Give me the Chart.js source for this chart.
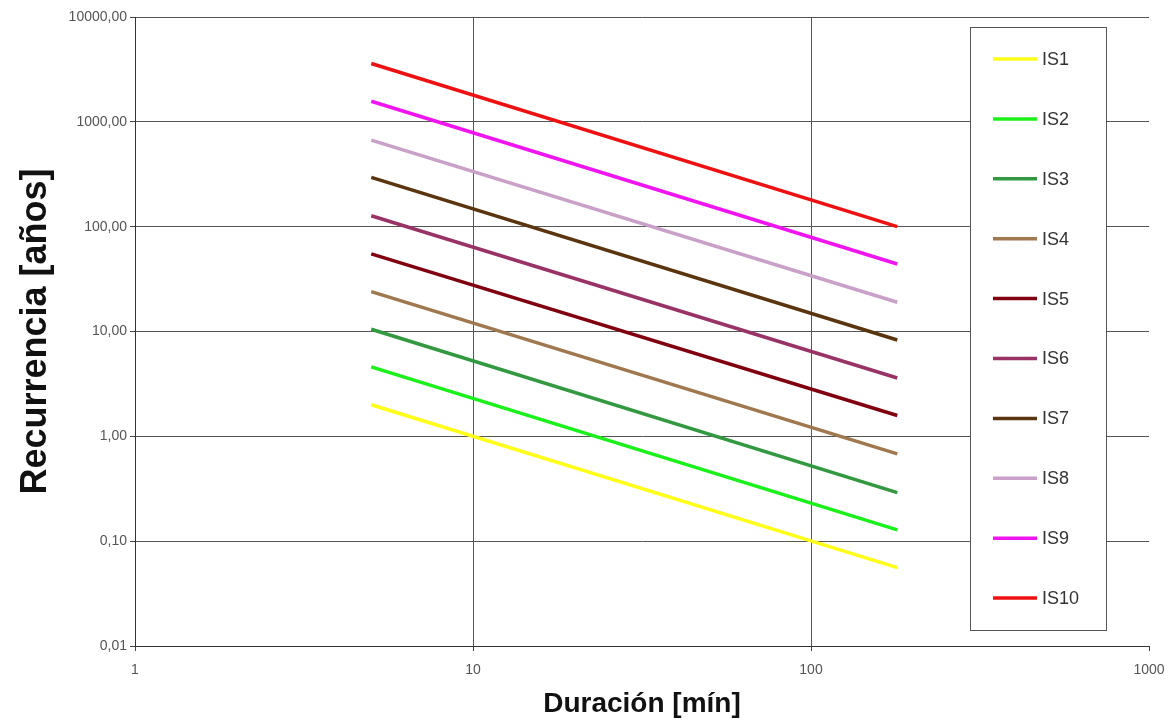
<!DOCTYPE html>
<html>
<head>
<meta charset="utf-8">
<script src="https://cdn.jsdelivr.net/npm/chart.js@4.4.1/dist/chart.umd.min.js"></script>
<style>
  body { margin: 0; background: #fff; }
  #wrap { width: 1169px; height: 722px; }
</style>
</head>
<body>
<div id="wrap"><canvas id="idfChart"></canvas></div>
<script>
// duraciones [min] donde empiezan y terminan las rectas
var durations = [5, 180];

// recurrencia [años] en cada duracion
var is1 = [2.0, 0.056];
var is2 = [4.6, 0.128];
var is3 = [10.5, 0.29];
var is4 = [24, 0.68];
var is5 = [55, 1.58];
var is6 = [127, 3.6];
var is7 = [295, 8.3];
var is8 = [670, 19];
var is9 = [1570, 44];
var is10 = [3600, 100];

var seriesNames = ['IS1', 'IS2', 'IS3', 'IS4', 'IS5', 'IS6', 'IS7', 'IS8', 'IS9', 'IS10'];
var seriesValues = [is1, is2, is3, is4, is5, is6, is7, is8, is9, is10];
var seriesColors = ['#FFFF1A', '#1AF01A', '#339940', '#A07850', '#800010', '#993366', '#5A3510', '#C8A0C8', '#F014F0', '#EE1111'];

var xTicks = [1, 10, 100, 1000];
var yTicks = [0.01, 0.1, 1, 10, 100, 1000, 10000];

var datasets = [];
seriesNames.forEach(function (name, i) {
    var pts = [];
    durations.forEach(function (d, j) {
        pts.push({ x: d, y: seriesValues[i][j] });
    });
    datasets.push({
        label: name,
        data: pts,
        borderColor: seriesColors[i],
        backgroundColor: seriesColors[i],
        borderWidth: 3.5,
        pointRadius: 0,
        fill: false
    });
});

// leyenda dibujada a mano dentro del area del grafico
var boxLegend = {
    id: 'boxLegend',
    afterDraw: function (chart) {
        var ctx = chart.ctx;
        var x0 = 970, y0 = 27, w = 136, h = 603;
        ctx.save();
        ctx.fillStyle = '#fff';
        ctx.fillRect(x0, y0, w, h);
        ctx.strokeStyle = '#555';
        ctx.lineWidth = 1;
        ctx.strokeRect(x0 + 0.5, y0 + 0.5, w, h);
        ctx.font = '18px "Liberation Sans", Arial, sans-serif';
        ctx.textBaseline = 'middle';
        ctx.fillStyle = '#333';
        chart.data.datasets.forEach(function (ds, i) {
            var y = 59 + i * 59.9;
            ctx.strokeStyle = ds.borderColor;
            ctx.lineWidth = 3.5;
            ctx.beginPath();
            ctx.moveTo(993, y);
            ctx.lineTo(1037, y);
            ctx.stroke();
            ctx.fillText(ds.label, 1042, y + 1);
        });
        ctx.restore();
    }
};

var ctx = document.getElementById('idfChart').getContext('2d');
var chart = new Chart(ctx, {
    type: 'line',
    data: { datasets: datasets },
    plugins: [boxLegend],
    options: {
        responsive: true,
        maintainAspectRatio: false,
        animation: false,
        layout: { padding: { top: 17, right: 20, left: 0, bottom: 0 } },
        plugins: {
            legend: { display: false },
            tooltip: { enabled: false }
        },
        scales: {
            x: {
                type: 'logarithmic',
                min: 1,
                max: 1000,
                afterBuildTicks: function (scale) {
                    scale.ticks = xTicks.map(function (v) { return { value: v }; });
                },
                afterFit: function (scale) {
                    scale.height = 76;
                    scale.paddingLeft = 0;
                    scale.paddingRight = 0;
                },
                ticks: {
                    color: '#555',
                    font: { family: '"Liberation Sans", Arial, sans-serif', size: 14 },
                    padding: 11,
                    maxRotation: 0,
                    autoSkip: false,
                    callback: function (v) { return String(v); }
                },
                grid: {
                    color: function (c) {
                        return (c.tick && (c.tick.value === 10 || c.tick.value === 100)) ? '#555' : 'rgba(0,0,0,0)';
                    },
                    tickColor: '#444',
                    tickLength: 5,
                    lineWidth: 1
                },
                border: { display: true, color: '#333', width: 1 },
                title: {
                    display: true,
                    text: 'Duración [mín]',
                    color: '#111',
                    font: { family: '"Liberation Sans", Arial, sans-serif', size: 28, weight: 'bold' },
                    padding: { top: 0, bottom: 1 }
                }
            },
            y: {
                type: 'logarithmic',
                min: 0.01,
                max: 10000,
                afterBuildTicks: function (scale) {
                    scale.ticks = yTicks.map(function (v) { return { value: v }; });
                },
                afterFit: function (scale) { scale.width = 135; },
                ticks: {
                    color: '#555',
                    font: { family: '"Liberation Sans", Arial, sans-serif', size: 14 },
                    padding: 3,
                    autoSkip: false,
                    callback: function (v) { return Number(v).toFixed(2).replace('.', ','); }
                },
                grid: {
                    color: '#555',
                    tickColor: '#444',
                    tickLength: 5,
                    lineWidth: 1
                },
                border: { display: true, color: '#333', width: 1 },
                title: {
                    display: true,
                    text: 'Recurrencia [años]',
                    color: '#111',
                    font: { family: '"Liberation Sans", Arial, sans-serif', size: 36, weight: 'bold' },
                    padding: { top: 14, bottom: 0 }
                }
            }
        }
    }
});
</script>
</body>
</html>
